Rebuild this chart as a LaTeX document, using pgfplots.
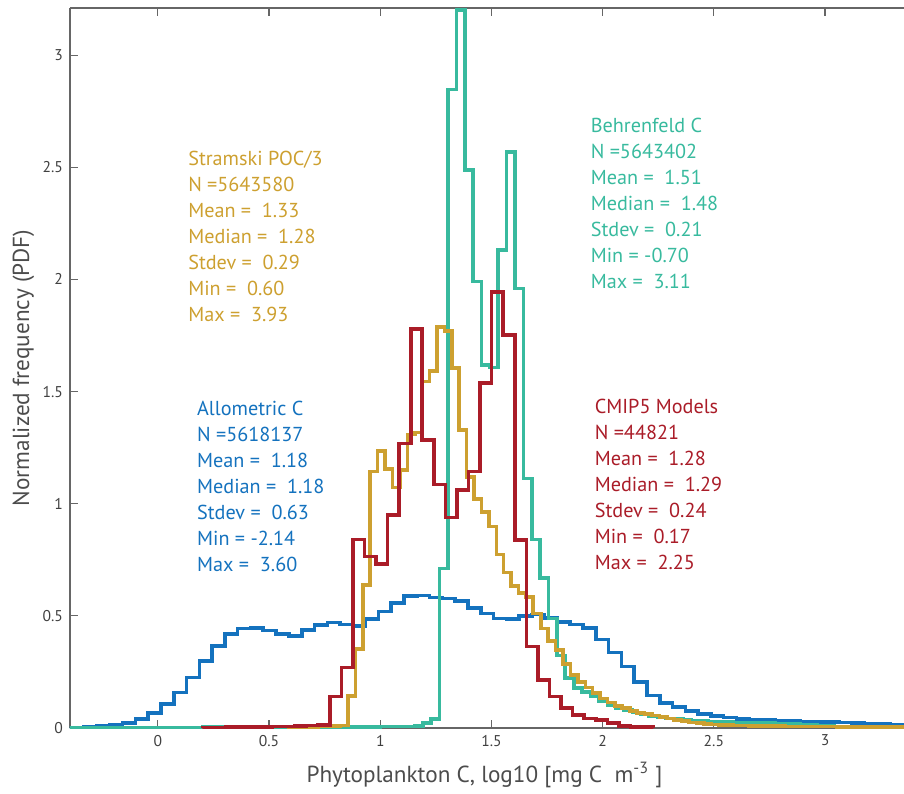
\documentclass[border=0pt]{standalone}
\usepackage{pgfplots}
\pgfplotsset{compat=1.18}
\usepackage{fontspec}
\setmainfont{PT Sans}

\definecolor{cblue}{RGB}{20,114,190}
\definecolor{cgold}{RGB}{205,160,48}
\definecolor{cred}{RGB}{170,28,40}
\definecolor{cteal}{RGB}{56,186,158}

\begin{document}
\begin{tikzpicture}
\begin{axis}[
    name=ax,
    scale only axis,
    width=417pt, height=360pt,
    xmin=-0.395, xmax=3.355,
    ymin=0, ymax=3.21,
    axis x line*=box, axis y line*=left,
    axis line style={black!60, line width=0.6pt},
    xtick={0,0.5,...,3}, ytick={0,0.5,...,3},
    tick align=inside,
    major tick length=4pt,
    tick style={black!60, line width=0.6pt},
    /pgf/number format/assume math mode=true,
    tick label style={font=\fontsize{7.8}{9}\selectfont, text=black!75},
    xlabel={Phytoplankton C, log10 [mg C \ m\textsuperscript{-3} ]},
    ylabel={Normalized frequency (PDF)},
    label style={font=\fontsize{11.6}{13}\selectfont, text=black!70},
    xlabel style={at={(axis description cs:0.497,-0.075)}, anchor=base},
    ylabel style={at={(axis description cs:-0.056,0.5)}, anchor=center},
    every axis plot/.append style={const plot mark left, line width=1.8pt, mark=none},
]

% Allometric C
\addplot[cblue] coordinates {
(-0.446,0) (-0.446,0.002) (-0.389,0.003) (-0.331,0.005) (-0.274,0.008)
(-0.216,0.013) (-0.159,0.021) (-0.101,0.039) (-0.044,0.068) (0.014,0.107)
(0.072,0.159) (0.129,0.226) (0.187,0.300) (0.244,0.366) (0.302,0.419)
(0.359,0.444) (0.417,0.447) (0.474,0.434) (0.532,0.419) (0.589,0.410)
(0.647,0.437) (0.704,0.459) (0.762,0.471) (0.819,0.462) (0.877,0.455)
(0.934,0.485) (0.992,0.519) (1.049,0.556) (1.107,0.588) (1.164,0.591)
(1.222,0.581) (1.279,0.577) (1.337,0.566) (1.394,0.536) (1.452,0.511)
(1.509,0.489) (1.567,0.485) (1.624,0.499) (1.682,0.506) (1.739,0.491)
(1.797,0.472) (1.854,0.462) (1.912,0.447) (1.969,0.394) (2.027,0.336)
(2.084,0.275) (2.142,0.204) (2.199,0.145) (2.257,0.112) (2.314,0.094)
(2.372,0.075) (2.429,0.062) (2.487,0.053) (2.544,0.046) (2.602,0.041)
(2.659,0.037) (2.717,0.035) (2.774,0.033) (2.832,0.031) (2.889,0.029)
(2.947,0.028) (3.004,0.026) (3.062,0.024) (3.119,0.022) (3.177,0.020)
(3.234,0.018) (3.292,0.016) (3.349,0.014) (3.407,0.012) (3.464,0)
};

% Behrenfeld C
\addplot[cteal] coordinates {
(-0.430,0) (-0.430,0.003) (0.200,0.004) (0.700,0.005) (1.000,0.006)
(1.154,0.008) (1.192,0.021) (1.229,0.039) (1.267,0.712) (1.304,2.847)
(1.342,3.200) (1.380,2.488) (1.417,1.990) (1.455,1.618) (1.493,1.608)
(1.530,2.131) (1.568,2.569) (1.606,1.960) (1.644,1.113) (1.681,0.841)
(1.719,0.670) (1.757,0.489) (1.794,0.323) (1.832,0.223) (1.870,0.178)
(1.908,0.160) (1.945,0.140) (1.983,0.120) (2.021,0.103) (2.058,0.090)
(2.096,0.079) (2.134,0.069) (2.172,0.061) (2.209,0.054) (2.247,0.048)
(2.285,0.043) (2.323,0.039) (2.360,0.035) (2.398,0.032) (2.436,0.030)
(2.473,0.028) (2.511,0.027) (2.549,0.026) (2.587,0.025) (2.624,0.024)
(2.662,0.023) (2.700,0.022) (2.738,0.021) (2.775,0.020) (2.813,0.018)
(2.851,0.017) (2.889,0.015) (2.926,0.013) (2.964,0.011) (3.002,0.009)
(3.040,0.007) (3.077,0.005) (3.115,0)
};

% Stramski POC/3
\addplot[cgold] coordinates {
(0.588,0) (0.588,0.002) (0.622,0.003) (0.655,0.004) (0.688,0.005)
(0.722,0.006) (0.755,0.008) (0.788,0.010) (0.822,0.012) (0.855,0.143)
(0.888,0.351) (0.922,0.638) (0.955,1.143) (0.988,1.236) (1.022,1.155)
(1.055,1.073) (1.088,1.150) (1.122,1.308) (1.155,1.317) (1.188,1.544)
(1.222,1.592) (1.255,1.789) (1.288,1.771) (1.322,1.606) (1.355,1.329)
(1.388,1.120) (1.422,1.021) (1.455,0.962) (1.488,0.898) (1.522,0.774)
(1.555,0.694) (1.588,0.633) (1.622,0.603) (1.655,0.585) (1.688,0.511)
(1.722,0.444) (1.755,0.389) (1.788,0.348) (1.822,0.285) (1.855,0.236)
(1.888,0.206) (1.922,0.181) (1.955,0.157) (1.988,0.132) (2.022,0.113)
(2.055,0.098) (2.088,0.088) (2.122,0.077) (2.155,0.068) (2.188,0.062)
(2.222,0.055) (2.255,0.048) (2.288,0.042) (2.322,0.036) (2.355,0.030)
(2.388,0.025) (2.422,0.021) (2.455,0.018) (2.488,0.016) (2.522,0.014)
(2.555,0.013) (2.588,0.012) (2.622,0.011) (2.655,0.010) (2.688,0.009)
(2.722,0.009) (2.755,0.008) (2.788,0.008) (2.822,0.007) (2.855,0.007)
(2.888,0.007) (2.922,0.006) (2.955,0.006) (2.988,0.006) (3.022,0.006)
(3.055,0.005) (3.088,0.005) (3.122,0.005) (3.155,0.005) (3.188,0.005)
(3.222,0.004) (3.255,0.004) (3.288,0.004) (3.322,0.004) (3.355,0.004)
(3.388,0)
};

% CMIP5 Models
\addplot[cred] coordinates {
(0.201,0) (0.201,0.003) (0.253,0.003) (0.305,0.004) (0.357,0.004)
(0.409,0.005) (0.461,0.005) (0.513,0.006) (0.565,0.007) (0.617,0.009)
(0.669,0.011) (0.721,0.014) (0.773,0.140) (0.825,0.269) (0.877,0.841)
(0.929,0.764) (0.981,0.731) (1.033,0.950) (1.085,1.269) (1.137,1.780)
(1.189,1.284) (1.241,1.086) (1.293,0.939) (1.345,1.061) (1.397,1.143)
(1.449,1.537) (1.501,1.945) (1.553,1.753) (1.605,0.838) (1.657,0.363)
(1.709,0.214) (1.761,0.140) (1.813,0.088) (1.865,0.058) (1.917,0.043)
(1.969,0.036) (2.021,0.021) (2.073,0.009) (2.125,0.005) (2.177,0.004)
(2.229,0)
};

\begin{scope}[every node/.style={anchor=north west, align=left, inner sep=0pt,
    font=\fontsize{10.1}{13}\selectfont}]
\node[text=cgold] at (axis cs:0.135,2.575)
  {Stramski POC/3\\N =5643580\\Mean = \ 1.33\\Median = \ 1.28\\Stdev = \ 0.29\\Min = \ 0.60\\Max = \ 3.93};
\node[text=cteal] at (axis cs:1.945,2.72)
  {Behrenfeld C\\N =5643402\\Mean = \ 1.51\\Median = \ 1.48\\Stdev = \ 0.21\\Min = -0.70\\Max = \ 3.11};
\node[text=cblue] at (axis cs:0.175,1.458)
  {Allometric C\\N =5618137\\Mean = \ 1.18\\Median = \ 1.18\\Stdev = \ 0.63\\Min = -2.14\\Max = \ 3.60};
\node[text=cred] at (axis cs:1.963,1.467)
  {CMIP5 Models\\N =44821\\Mean = \ 1.28\\Median = \ 1.29\\Stdev = \ 0.24\\Min = \ 0.17\\Max = \ 2.25};
\end{scope}
\end{axis}
\pgfresetboundingbox
\path ([shift={(-35pt,-32.5pt)}]ax.south west) rectangle ([shift={(0pt,4pt)}]ax.north east);
\end{tikzpicture}
\end{document}
